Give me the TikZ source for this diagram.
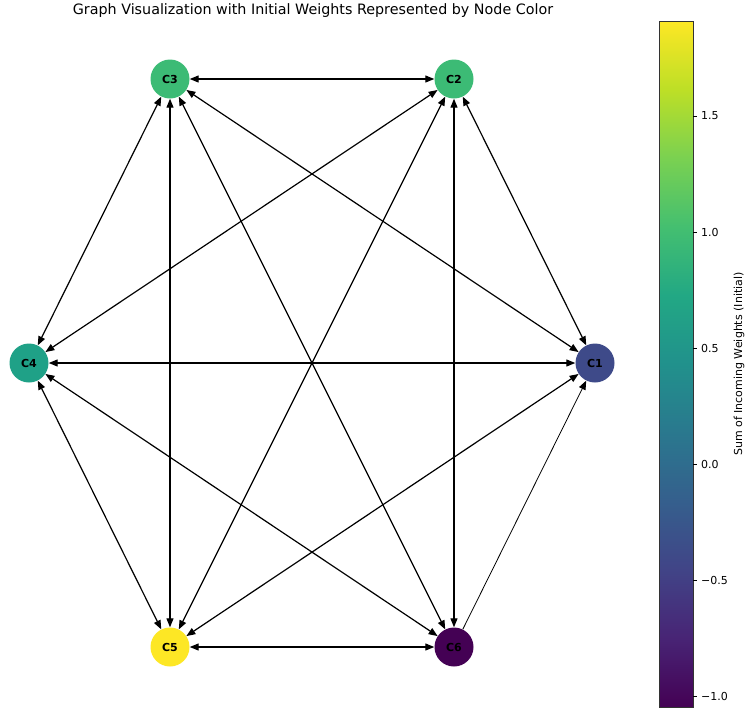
\documentclass[tikz,border=0pt]{standalone}
\usepackage{fontspec}
\setmainfont{DejaVu Sans}
\usetikzlibrary{arrows.meta}
\definecolor{vir0}{HTML}{440154}
\definecolor{vir1}{HTML}{482475}
\definecolor{vir2}{HTML}{414487}
\definecolor{vir3}{HTML}{355F8D}
\definecolor{vir4}{HTML}{2A788E}
\definecolor{vir5}{HTML}{21918C}
\definecolor{vir6}{HTML}{22A884}
\definecolor{vir7}{HTML}{44BF70}
\definecolor{vir8}{HTML}{7AD151}
\definecolor{vir9}{HTML}{BDDF26}
\definecolor{vir10}{HTML}{FDE725}
\definecolor{colone}{HTML}{3E4A89}
\definecolor{coltwo}{HTML}{3CBB75}
\definecolor{colfour}{HTML}{1FA187}
\pgfdeclareverticalshading{viridis}{100bp}{color(0bp)=(vir0); color(25bp)=(vir0);
  color(30bp)=(vir1); color(35bp)=(vir2); color(40bp)=(vir3); color(45bp)=(vir4);
  color(50bp)=(vir5); color(55bp)=(vir6); color(60bp)=(vir7); color(65bp)=(vir8);
  color(70bp)=(vir9); color(75bp)=(vir10); color(100bp)=(vir10)}
\begin{document}
\begin{tikzpicture}[x=1pt,y=-1pt,
  vertex/.style={circle,minimum size=39pt,inner sep=0pt,font=\fontsize{11}{13}\selectfont\bfseries},
  biedge/.style={{Triangle[length=9pt,width=7pt]}-{Triangle[length=9pt,width=7pt]},line width=1.2pt},
  oneedge/.style={-{Triangle[length=9pt,width=7pt]},line width=0.8pt},
  ticklabel/.style={anchor=west,inner sep=0pt,font=\fontsize{11}{13}\selectfont}]
\useasboundingbox[fill=white] (0,0) rectangle (753,710);
\node (title) at (313,11) {\fontsize{14.3}{17}\selectfont Graph Visualization with Initial Weights Represented by Node Color};
\node[vertex,fill=colone] (c1) at (595,363) {C1};
\node[vertex,fill=coltwo] (c2) at (454,79) {C2};
\node[vertex,fill=coltwo] (c3) at (170,79) {C3};
\node[vertex,fill=colfour] (c4) at (29,363) {C4};
\node[vertex,fill=vir10] (c5) at (170,647) {C5};
\node[vertex,fill=vir0] (c6) at (454,647) {C6};
\draw[biedge] (c3) -- (c2);
\draw[biedge] (c3) -- (c4);
\draw[biedge] (c3) -- (c5);
\draw[biedge] (c3) -- (c1);
\draw[biedge] (c3) -- (c6);
\draw[biedge] (c2) -- (c4);
\draw[biedge] (c2) -- (c5);
\draw[biedge] (c2) -- (c6);
\draw[biedge] (c2) -- (c1);
\draw[biedge] (c4) -- (c1);
\draw[biedge] (c4) -- (c5);
\draw[biedge] (c4) -- (c6);
\draw[biedge] (c5) -- (c1);
\draw[biedge] (c5) -- (c6);
\draw[oneedge] (c6) -- (c1);
\shade[shading=viridis] (659,707) rectangle (693,21);
\draw[line width=0.8pt,black!80] (659,707) rectangle (693,21);
\draw[line width=0.8pt] (693,116) -- (697,116);
\draw[line width=0.8pt] (693,232) -- (697,232);
\draw[line width=0.8pt] (693,348) -- (697,348);
\draw[line width=0.8pt] (693,464) -- (697,464);
\draw[line width=0.8pt] (693,580) -- (697,580);
\draw[line width=0.8pt] (693,696) -- (697,696);
\node[ticklabel] (t1) at (701,116) {1.5};
\node[ticklabel] (t2) at (701,232) {1.0};
\node[ticklabel] (t3) at (701,348) {0.5};
\node[ticklabel] (t4) at (701,464) {0.0};
\node[ticklabel] (t5) at (701,580) {−0.5};
\node[ticklabel] (t6) at (701,696) {−1.0};
\node[rotate=90,font=\fontsize{11}{13}\selectfont] (barlabel) at (739,364) {Sum of Incoming Weights (Initial)};
\end{tikzpicture}
\end{document}
